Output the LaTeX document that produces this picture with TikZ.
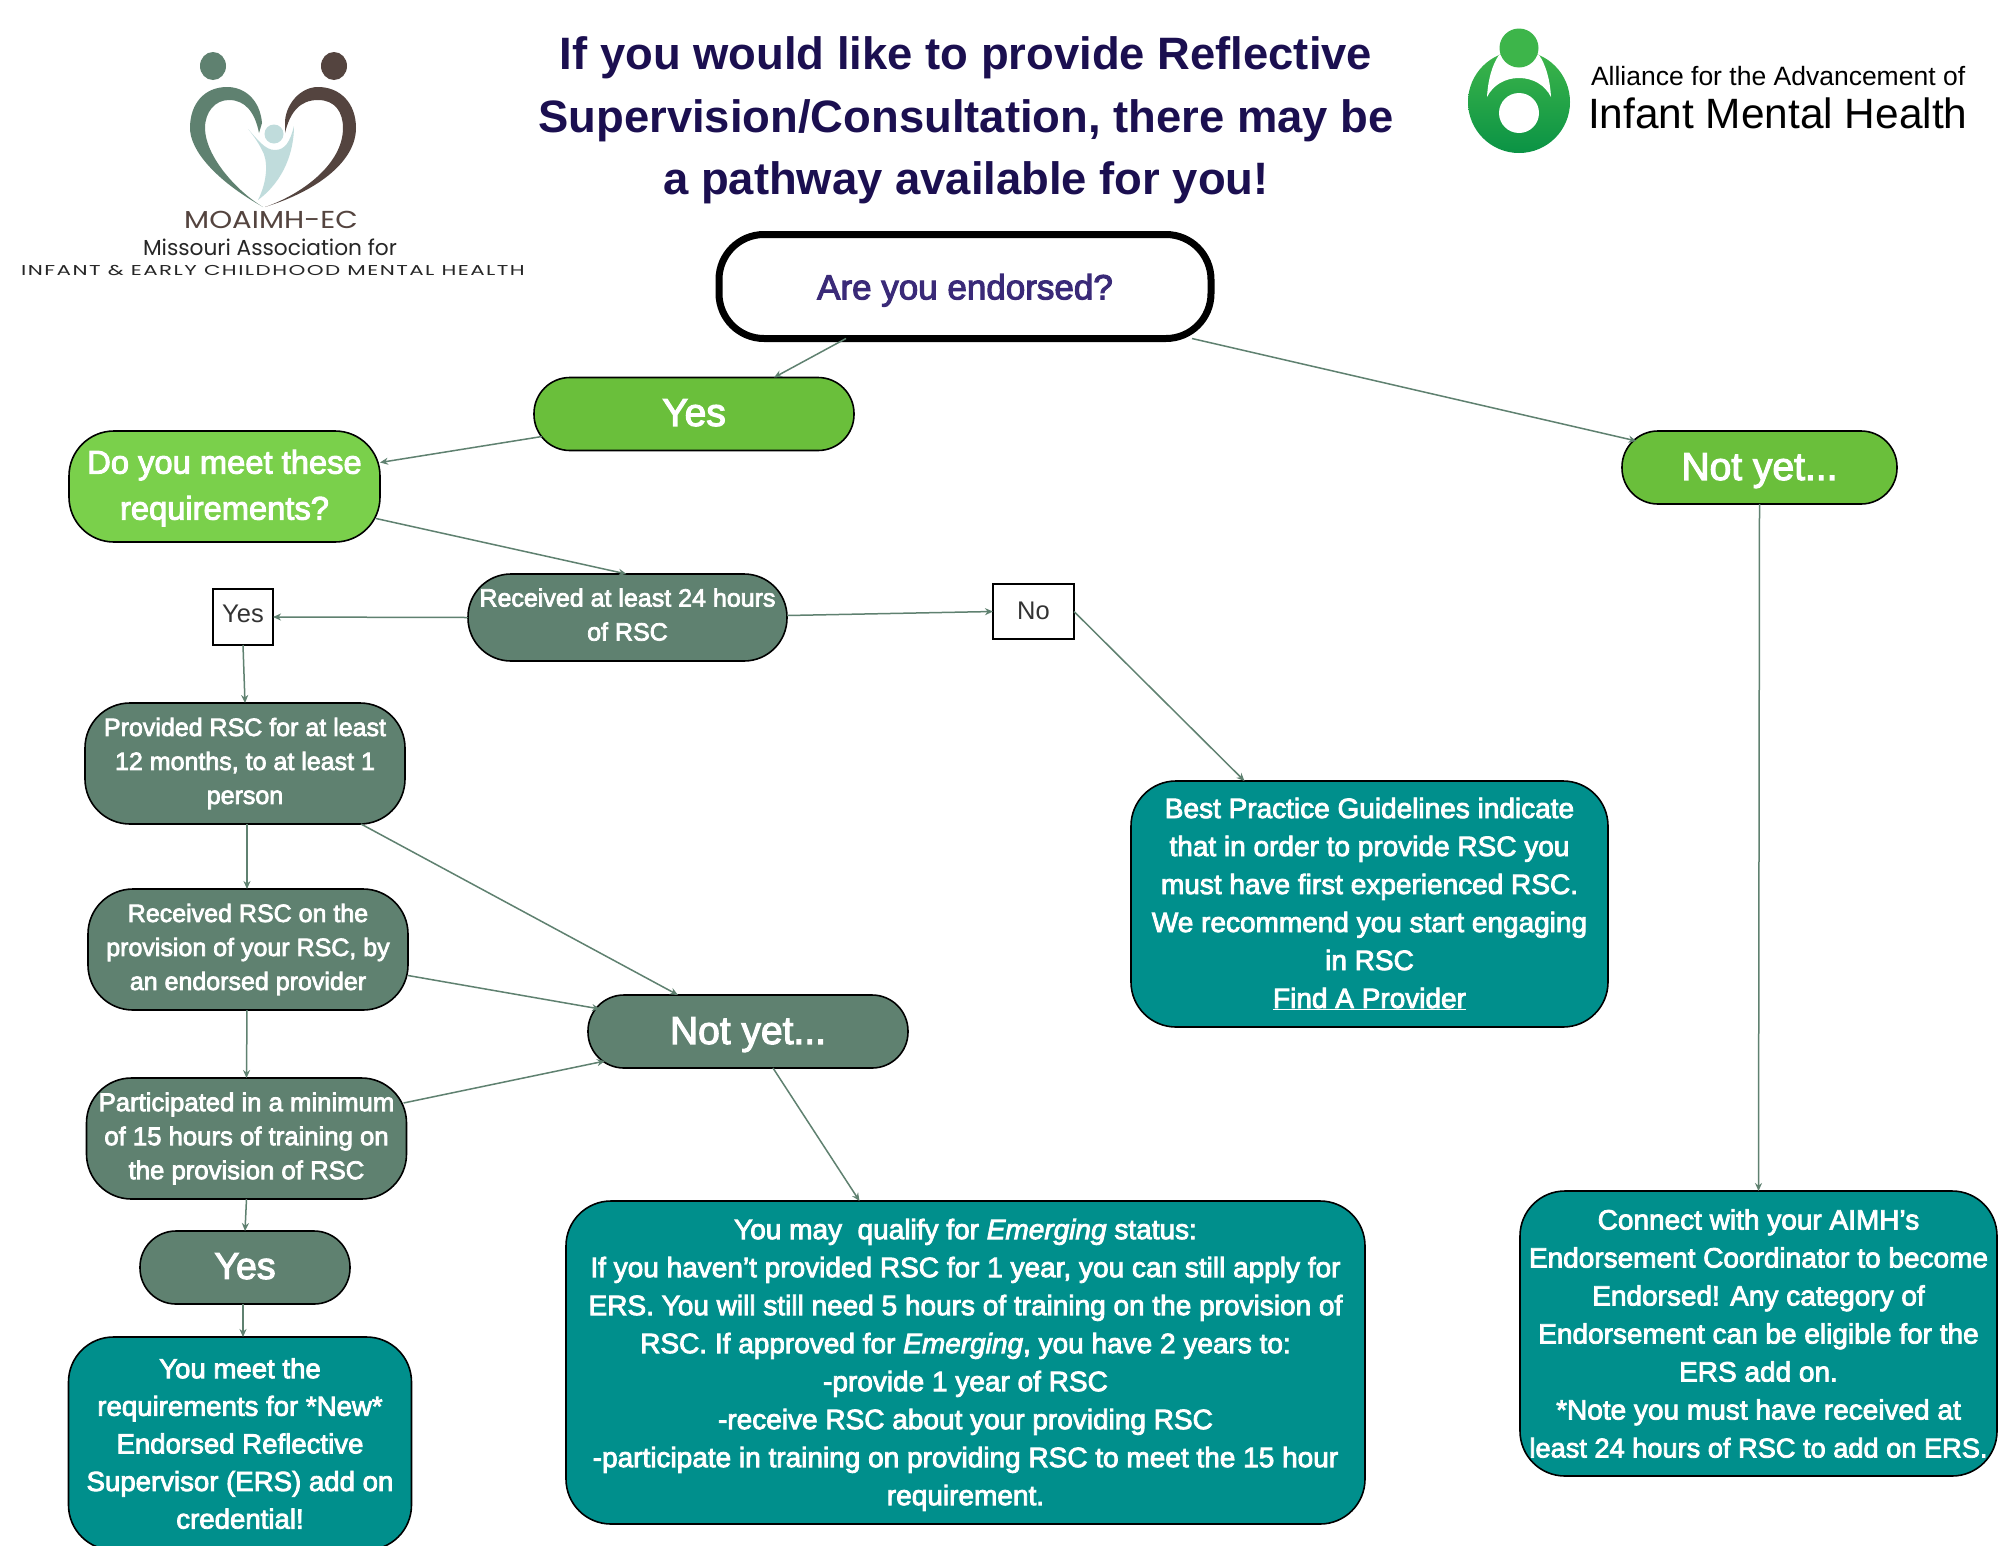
\documentclass[tikz,border=0pt]{standalone}
\usepackage{fontspec}
\setmainfont{Liberation Sans}
\newfontfamily\bodyf[FakeBold=3]{Liberation Sans}
\newfontfamily\logof{Poppins}
\newfontfamily\logom[FakeStretch=1.19]{Poppins}
\newfontfamily\logow[FakeStretch=1.5,LetterSpace=10]{Poppins}
\newcommand{\fs}[2]{\fontsize{#1pt}{#2pt}\selectfont}
\definecolor{sage}{HTML}{5F8170}
\definecolor{leaf}{HTML}{6ABF3B}
\definecolor{lime}{HTML}{7AD04B}
\definecolor{teal}{HTML}{008F8C}
\definecolor{navy}{HTML}{1B0F50}
\definecolor{purp}{HTML}{3A2A78}
\definecolor{brownl}{HTML}{54443F}
\definecolor{pale}{HTML}{C0DCDC}
\definecolor{gtop}{HTML}{3DB54A}
\definecolor{gmid}{HTML}{0A9345}
\usetikzlibrary{arrows.meta}
\tikzset{
 x=1pt,y=-1pt,
 boxb/.style={draw=black,line width=1.6pt,align=center,inner sep=0pt,outer sep=0pt,text=white,rounded corners=45pt,font=\bodyf},
 sagebox/.style={boxb,fill=sage},
 tealbox/.style={boxb,fill=teal},
 greenbox/.style={boxb,fill=leaf,rounded corners=36pt},
 plainbox/.style={draw=black,line width=1.6pt,fill=white,inner sep=0pt,outer sep=0pt,text=black!80,font=\fs{25.5}{28}},
 conn/.style={draw=sage,line width=1.5pt,-{Stealth[length=8pt,width=7pt]}},
 logotxt/.style={inner sep=0pt,outer sep=0pt,align=center},
}
\begin{document}
\begin{tikzpicture}
\useasboundingbox (0,0) rectangle (2000,1545);
\fill[white] (0,0) rectangle (2000,1545);
% title
\node[logotxt,text=navy,font=\bfseries\fs{45.4}{62.5}] (title) at (966,120.5) {If you would like to provide Reflective\\Supervision/Consultation, there may be\\a pathway available for you!};
% left logo
\fill[sage] (213,66) ellipse (13 and 14);
\fill[brownl] (334,66) ellipse (13 and 14);
\fill[sage] (263,207) .. controls (215,180) and (190,150) .. (190,128) .. controls (190,103) and (205,87) .. (227,87) .. controls (245,87) and (260,100) .. (262,123) -- (259,133) .. controls (255,112) and (245,100) .. (229,100) .. controls (215,100) and (205,112) .. (205,128) .. controls (205,155) and (235,190) .. cycle;
\fill[brownl] (265,207) .. controls (320,190) and (356,160) .. (356,128) .. controls (356,103) and (340,87) .. (318,87) .. controls (300,87) and (285,105) .. (285,123) -- (285,133) .. controls (290,112) and (300,100) .. (318,100) .. controls (335,100) and (343,112) .. (343,128) .. controls (343,165) and (300,195) .. cycle;
\fill[pale] (274,134) circle (9.5);
\fill[pale] (248,129) .. controls (258,140) and (265,150) .. (275,150) .. controls (285,150) and (290,142) .. (294,126) .. controls (294,150) and (285,180) .. (258,200) .. controls (268,180) and (268,160) .. (262,150) .. controls (258,142) and (253,135) .. cycle;
\node[logotxt,text=brownl,font=\logom\fs{24.5}{30}] (moa) at (271,220) {MOAIMH-EC};
\node[logotxt,text=black!85,font=\logof\fs{21.7}{24}] (miss) at (270,247) {Missouri Association for};
\node[logotxt,text=black!85,font=\logow\fs{14.3}{18}] (inf) at (273,270.5) {INFANT \& EARLY CHILDHOOD MENTAL HEALTH};
% right logo
\shade[top color=gtop,middle color=gmid,bottom color=gmid] (1519,102) circle (51);
\fill[white] (1519,113) circle (20);
\fill[white] (1487,97) .. controls (1488,80) and (1492,65) .. (1499,55) -- (1539,55) .. controls (1546,65) and (1550,80) .. (1551,97) .. controls (1545,85) and (1533,78) .. (1519,78) .. controls (1505,78) and (1493,85) .. cycle;
\fill[gtop] (1519,48) circle (19.5);
\node[logotxt,text=black,anchor=west,font=\fs{26.5}{28}] (all) at (1591,76) {Alliance for the Advancement of};
\node[logotxt,text=black,anchor=west,font=\fs{42.4}{44}] (imh) at (1588,113) {Infant Mental Health};
% nodes
\node[boxb,fill=white,draw=black,line width=7pt,text=purp,minimum width=492pt,minimum height=104pt,font=\bodyf\fs{35}{38}] (are) at (965,286.5) {\rule{0pt}{33pt}Are you endorsed?};
\node[greenbox,minimum width=320pt,minimum height=73pt,font=\bodyf\fs{39}{42}] (yes) at (694,414) {Yes\rule[-3pt]{0pt}{0pt}};
\node[boxb,fill=lime,minimum width=311pt,minimum height=111pt,font=\bodyf\fs{32.7}{46}] (doyou) at (224.5,486.5) {\rule{0pt}{27pt}Do you meet these\\requirements?};
\node[greenbox,minimum width=275pt,minimum height=73pt,font=\bodyf\fs{39}{42}] (notg) at (1759.5,467.5) {\rule{0pt}{33pt}Not yet...};
\node[sagebox,rounded corners=43pt,minimum width=319pt,minimum height=87pt,font=\bodyf\fs{25}{34}] (recv) at (627.5,617.5) {Received at least 24 hours\\of RSC\rule[-6pt]{0pt}{0pt}};
\node[plainbox,minimum width=60pt,minimum height=56pt] (ybox) at (243,617) {Yes\rule[-6pt]{0pt}{0pt}};
\node[plainbox,minimum width=81pt,minimum height=55pt] (nbox) at (1033.5,611.5) {No\rule[-2.5pt]{0pt}{0pt}};
\node[sagebox,minimum width=320pt,minimum height=121pt,font=\bodyf\fs{25}{34}] (prov) at (245,763.5) {Provided RSC for at least\\12 months, to at least 1\\person};
\node[sagebox,minimum width=320pt,minimum height=121pt,font=\bodyf\fs{25}{34}] (rsc) at (248,949.5) {Received RSC on the\\provision of your RSC, by\\an endorsed provider};
\node[sagebox,minimum width=320pt,minimum height=121pt,font=\bodyf\fs{25.7}{34}] (part) at (246.5,1138.5) {Participated in a minimum\\of 15 hours of training on\\the provision of RSC};
\node[sagebox,rounded corners=36pt,minimum width=210pt,minimum height=73pt,font=\bodyf\fs{37.5}{42}] (yes2) at (245,1267.5) {Yes\rule[-3pt]{0pt}{0pt}};
\node[tealbox,minimum width=343pt,minimum height=213pt,font=\bodyf\fs{27.6}{37.6}] (meet) at (240,1443.5) {You meet the\\requirements for *New*\\Endorsed Reflective\\Supervisor (ERS) add on\\credential!};
\node[sagebox,rounded corners=36pt,minimum width=320pt,minimum height=73pt,font=\bodyf\fs{39}{42}] (notm) at (748,1031.5) {\rule{0pt}{33pt}Not yet...};
\node[tealbox,minimum width=477pt,minimum height=246pt,font=\bodyf\fs{28}{38}] (best) at (1369.5,904) {Best Practice Guidelines indicate\\that in order to provide RSC you\\must have first experienced RSC.\\We recommend you start engaging\\in RSC\\\underline{Find A Provider}};
\node[tealbox,minimum width=799pt,minimum height=323pt,font=\bodyf\fs{28}{38}] (emer) at (965.5,1362.5) {\rule{0pt}{25pt}You may\ \ qualify for \emph{Emerging} status:\\If you haven’t provided RSC for 1 year, you can still apply for\\ERS. You will still need 5 hours of training on the provision of\\RSC. If approved for \emph{Emerging}, you have 2 years to:\\-provide 1 year of RSC\\-receive RSC about your providing RSC\\-participate in training on providing RSC to meet the 15 hour\\requirement.};
\node[tealbox,minimum width=477pt,minimum height=285pt,font=\bodyf\fs{28}{38}] (conn) at (1758.5,1333.5) {Connect with your AIMH’s\\Endorsement Coordinator to become\\Endorsed! Any category of\\Endorsement can be eligible for the\\ERS add on.\\*Note you must have received at\\{\fs{27.2}{38}least 24 hours of RSC to add on ERS.}};
% connectors
\path[conn] ([xshift=-119pt]are.south) -- ([xshift=80pt]yes.north);
\path[conn] ([xshift=227pt]are.south) -- ([xshift=-123pt,yshift=-10pt]notg.north);
\path[conn] ([xshift=-152pt,yshift=14pt]yes.south) -- ([yshift=24pt]doyou.east);
\path[conn] ([xshift=-4pt,yshift=-32pt]doyou.east) -- ([xshift=-1pt]recv.north);
\path[conn] (recv.west) -- (ybox.east);
\path[conn] ([yshift=2pt]recv.east) -- (nbox.west);
\path[conn] (nbox.east) -- ([xshift=-125pt]best.north);
\path[conn] (ybox.south) -- (prov.north);
\path[conn] ([xshift=2pt]prov.south) -- ([xshift=-1pt]rsc.north);
\path[conn] ([xshift=-1pt]rsc.south) -- (part.north);
\path[conn] (part.south) -- (yes2.north);
\path[conn] ([xshift=-2pt]yes2.south) -- ([xshift=3pt]meet.north);
\path[conn] ([xshift=116pt]prov.south) -- ([xshift=-70pt]notm.north);
\path[conn] ([yshift=-26pt]rsc.east) -- ([xshift=-148pt,yshift=-14pt]notm.north);
\path[conn] ([xshift=-3pt,yshift=-25pt]part.north east) -- ([xshift=-143pt,yshift=7pt]notm.south);
\path[conn] ([xshift=25pt]notm.south) -- ([xshift=-106pt]emer.north);
\path[conn] (notg.south) -- (conn.north);
\end{tikzpicture}
\end{document}
